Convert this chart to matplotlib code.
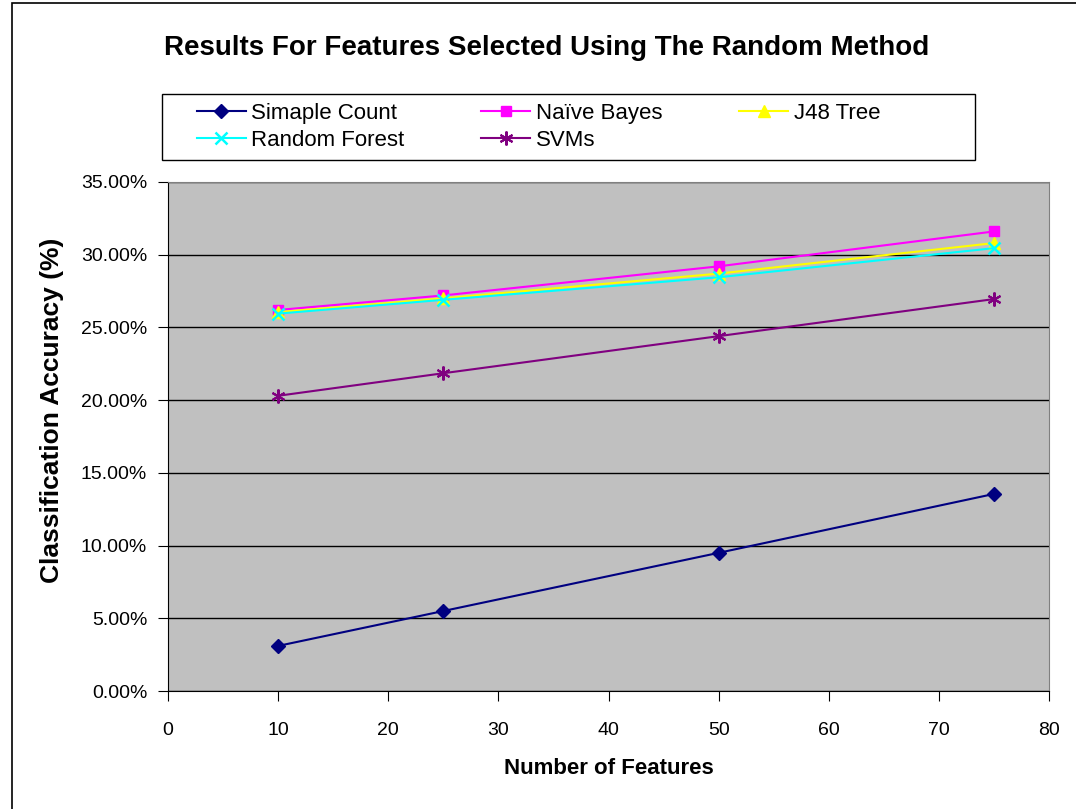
import matplotlib.pyplot as plt
from matplotlib.ticker import PercentFormatter
from matplotlib.patches import Rectangle

plt.rcParams['font.family'] = ['Liberation Sans', 'DejaVu Sans']

features = [10, 25, 50, 75]
simple_count = [3.1, 5.5, 9.5, 13.55]
naive_bayes = [26.2, 27.2, 29.2, 31.6]
j48_tree = [26.05, 27.0, 28.7, 30.8]
random_forest = [25.95, 26.9, 28.45, 30.45]
svms = [20.3, 21.85, 24.4, 26.95]

fig = plt.figure(figsize=(10.76, 8.09), dpi=100)
# chart border
fig.patches.append(Rectangle((12/1076, -0.01), 1.0, 1 - 3/809 + 0.01, transform=fig.transFigure,
                             fill=False, edgecolor='black', linewidth=1.2))

ax = fig.add_axes([168/1076, 118/809, 881/1076, 509/809])
ax.set_facecolor('#C0C0C0')

star = (6, 2, 0)
l1, = ax.plot(features, simple_count, color='#000080', marker='D', markersize=7, lw=1.5, label='Simaple Count')
l2, = ax.plot(features, naive_bayes, color='#FF00FF', marker='s', markersize=7, lw=1.5, label='Naïve Bayes')
l3, = ax.plot(features, j48_tree, color='#FFFF00', marker='^', markersize=8, lw=1.5, label='J48 Tree')
l4, = ax.plot(features, random_forest, color='#00FFFF', marker='x', markersize=8, mew=1.8, lw=1.5, label='Random Forest')
l5, = ax.plot(features, svms, color='#800080', marker=star, markersize=10, mew=1.5, lw=1.5, label='SVMs')

ax.set_xlim(0, 80)
ax.set_ylim(0, 35)
ax.set_xticks(range(0, 81, 10))
ax.set_yticks(range(0, 36, 5))
ax.yaxis.set_major_formatter(PercentFormatter(decimals=2))
ax.grid(axis='y', color='black', linewidth=1)
ax.set_axisbelow(True)
for s in ['top', 'right']:
    ax.spines[s].set_color('#808080')
ax.tick_params(direction='out', length=7, labelsize=14, pad=8)
ax.tick_params(axis='x', pad=15)

ax.set_xlabel('Number of Features', fontsize=16, fontweight='bold', labelpad=14)
ax.set_ylabel('Classification Accuracy (%)', fontsize=19, fontweight='bold')
ax.yaxis.set_label_coords(-104/881, 0.552)
fig.text(547/1076, 1 - 48/809, 'Results For Features Selected Using The Random Method',
         ha='center', va='center', fontsize=20, fontweight='bold')

# legend box
fig.patches.append(Rectangle((162/1076, 1 - 160/809), 813/1076, 66/809, transform=fig.transFigure,
                             facecolor='white', edgecolor='black', linewidth=1))
# column-major order so rows read: Simaple Count, Naïve Bayes, J48 Tree / Random Forest, SVMs
handles = [l1, l4, l2, l5, l3]
fig.legend(handles, [h.get_label() for h in handles], loc='center',
           bbox_to_anchor=(188/1076, 1 - 157/809, 701/1076, 60/809),
           ncol=3, mode='expand', fontsize=16, frameon=False,
           borderaxespad=0, handlelength=2.2, handletextpad=0.25, labelspacing=0.25)

fig.savefig('out.png', dpi=100)
